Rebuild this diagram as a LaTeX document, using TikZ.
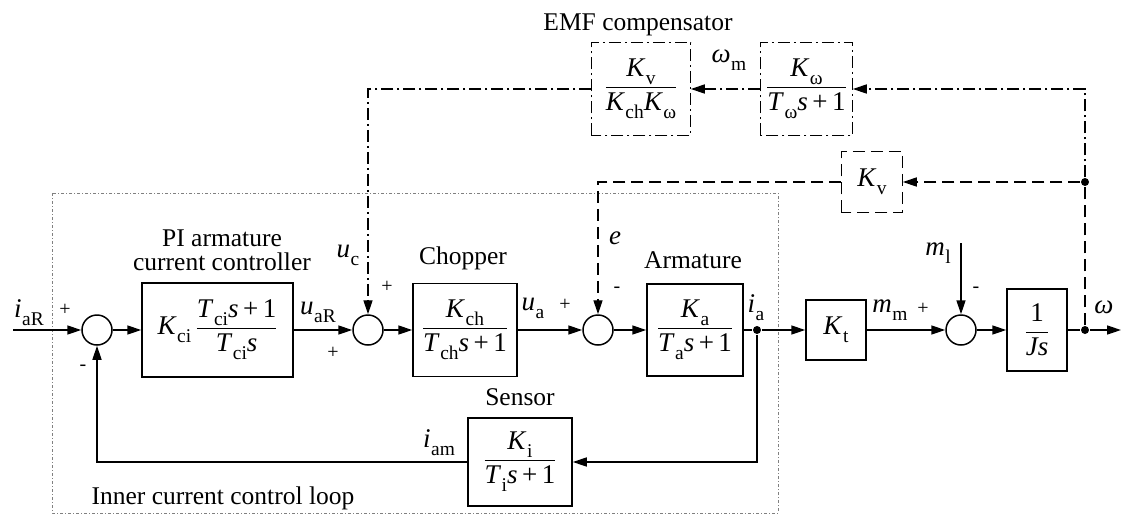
\documentclass[tikz,border=0pt]{standalone}
\usepackage{fontspec}
\setmainfont{Liberation Serif}
\usetikzlibrary{arrows.meta}
\newcommand{\vv}[2]{\textit{#1}\kern0.5pt\raisebox{-0.3em}{\scalebox{0.72}{#2}}}
\newcommand{\fr}[2]{$\displaystyle\frac{\hbox{#1}}{\hbox{#2}}$}
\begin{document}
\begin{tikzpicture}[x=1pt,y=-1pt,line width=1.5pt,
  >={Triangle[length=14pt,width=9pt]},
  blk/.style={draw,line width=1.5pt,inner sep=0pt,font=\fontsize{27}{30}\selectfont},
  sumc/.style={draw,circle,minimum size=30pt,inner sep=0pt,line width=1.5pt},
  lbl/.style={inner sep=0pt,font=\fontsize{25.5}{28}\selectfont},
  vlb/.style={inner sep=0pt,font=\fontsize{27}{30}\selectfont},
  sgn/.style={inner sep=0pt,font=\fontsize{20}{20}\selectfont},
  ddot/.style={circle,fill,inner sep=0pt,minimum size=8pt},
  emf/.style={dash pattern=on 12pt off 4pt on 2pt off 4pt,line width=1.4pt},
  kvd/.style={dash pattern=on 12pt off 6pt,line width=1.4pt},
  loopbox/.style={draw=gray,line width=0.8pt,dash pattern=on 3pt off 2pt on 1pt off 2pt}]
\useasboundingbox (0,0) rectangle (1121,517);
% inner loop frame
\draw[loopbox] (52,193) rectangle (778,513);
% blocks
\node[blk,minimum width=151pt,minimum height=94pt] (pi) at (217.5,330)
  {\vv{K}{ci}\,\fr{\vv{T}{ci}\textit{s}\,+\,1}{\vv{T}{ci}\textit{s}}};
\node[blk,minimum width=104pt,minimum height=93pt] (ch) at (465,330)
  {\fr{\vv{K}{ch}}{\vv{T}{ch}\textit{s}\,+\,1}};
\node[blk,minimum width=96pt,minimum height=92pt] (ar) at (695,330)
  {\fr{\vv{K}{a}}{\vv{T}{a}\textit{s}\,+\,1}};
\node[blk,minimum width=104pt,minimum height=88pt] (se) at (520,462)
  {\fr{\vv{K}{i}}{\vv{T}{i}\textit{s}\,+\,1}};
\node[blk,minimum width=60pt,minimum height=60pt] (kt) at (836,330) {\vv{K}{t}};
\node[blk,minimum width=60pt,minimum height=82pt] (js) at (1037,330) {\fr{1}{\textit{Js}}};
\node[blk,draw=none,minimum width=60pt,minimum height=59pt] (kv) at (872,182) {\vv{K}{v}};
\draw[kvd] (kv.south west) rectangle (kv.north east);
\node[blk,draw=none,minimum width=98pt,minimum height=91pt] (e1) at (641,89)
  {\fr{\vv{K}{v}}{\vv{K}{ch}\vv{K}{ω}}};
\draw[emf] (e1.south west) rectangle (e1.north east);
\node[blk,draw=none,minimum width=91pt,minimum height=91pt] (e2) at (806.5,89)
  {\fr{\vv{K}{ω}}{\vv{T}{ω}\textit{s}\,+\,1}};
\draw[emf] (e2.south west) rectangle (e2.north east);
% summing junctions
\node[sumc] (s1) at (97,330) {};
\node[sumc] (s2) at (368,330) {};
\node[sumc] (s3) at (598,330) {};
\node[sumc] (s4) at (961,330) {};
% dots and free ends
\node[ddot] (d1) at (757,330) {};
\node[ddot] (d2) at (1085,330) {};
\node[ddot] (d3) at (1085,182) {};
\coordinate (in) at (13,330);
\coordinate (out) at (1121,330);
\coordinate (ml) at (961,243);
% main path
\draw[->] (in) -- (s1);
\draw[->] (s1) -- (pi);
\draw[->] (pi) -- (s2);
\draw[->] (s2) -- (ch);
\draw[->] (ch) -- (s3);
\draw[->] (s3) -- (ar);
\draw (ar) -- (d1);
\draw[->] (d1) -- (kt);
\draw[->] (kt) -- (s4);
\draw[->] (s4) -- (js);
\draw (js) -- (d2);
\draw[->] (d2) -- (out);
\draw[->] (ml) -- (s4);
% current feedback
\draw[->] (d1) |- (se);
\draw[->] (se) -| (s1);
% EMF feedback
\draw[kvd] (d2) -- (d3);
\draw[kvd,->] (d3) -- (kv);
\draw[kvd,->] (kv) -| (s3);
\draw[emf,->] (d3) |- (e2);
\draw[emf,->] (e2) -- (e1);
\draw[emf,->] (e1) -| (s2);
% labels
\node[lbl] (t1) at (638,25) {EMF compensator};
\node[lbl] (t2) at (222,238) {PI armature};
\node[lbl] (t3) at (222,262) {current controller};
\node[lbl] (t4) at (463,258) {Chopper};
\node[lbl] (t5) at (693,260) {Armature};
\node[lbl] (t6) at (520,397) {Sensor};
\node[lbl] (t7) at (223,498) {Inner current control loop};
\node[vlb] (v1) at (29,313) {\vv{i}{aR}};
\node[vlb] (v2) at (318,312) {\vv{u}{aR}};
\node[vlb] (v3) at (348,255) {\vv{u}{c}};
\node[vlb] (v4) at (533,308) {\vv{u}{a}};
\node[vlb] (v5) at (615,238) {\textit{e}};
\node[vlb] (v6) at (756,308) {\vv{i}{a}};
\node[vlb] (v7) at (890,310) {\vv{m}{m}};
\node[vlb] (v8) at (938,253) {\vv{m}{l}};
\node[vlb] (v9) at (1104,307) {\textit{ω}};
\node[vlb] (v10) at (729,60) {\vv{ω}{m}};
\node[vlb] (v11) at (439,443) {\vv{i}{am}};
\node[sgn] (p1) at (65,310) {+};
\node[sgn] (m1) at (83,368) {-};
\node[sgn] (p2) at (333,353) {+};
\node[sgn] (p3) at (387,287) {+};
\node[sgn] (p4) at (565,305) {+};
\node[sgn] (m2) at (617,290) {-};
\node[sgn] (p5) at (923,309) {+};
\node[sgn] (m3) at (976,290) {-};
\end{tikzpicture}
\end{document}
